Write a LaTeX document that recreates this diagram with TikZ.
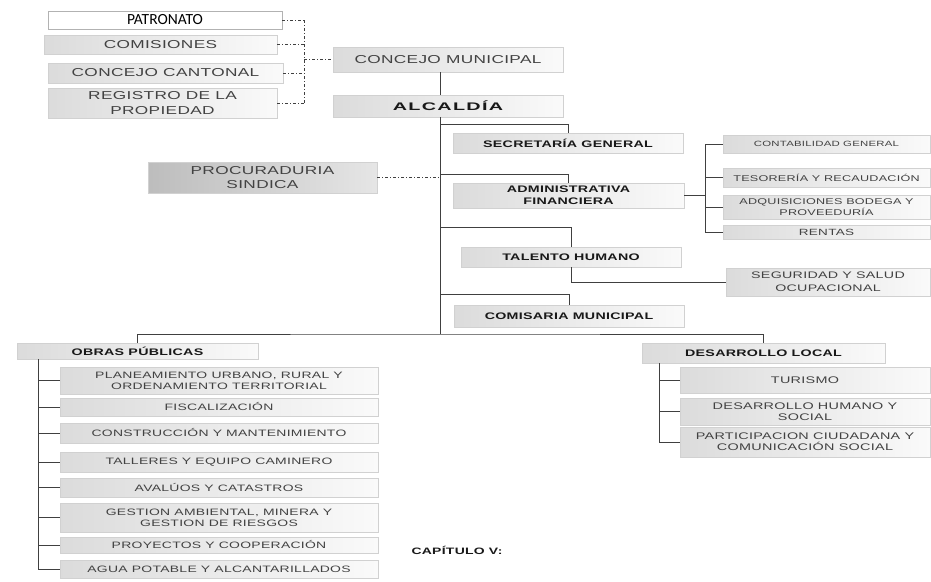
\documentclass[tikz,border=0pt]{standalone}
\usepackage{fontspec}
\newfontfamily\orgfont[FakeStretch=1.5,LetterSpace=3]{Liberation Sans}
\newfontfamily\widefont[FakeStretch=1.8,LetterSpace=12]{Liberation Sans}
\newfontfamily\patfont{Carlito}
\tikzset{
  unit/.style={rectangle, inner sep=0pt, draw=black!18, left color=black!14, right color=black!2, align=center, text=black!74},
  whitebox/.style={rectangle, inner sep=0pt, draw=black!30, fill=white, text=black, font=\patfont\fontsize{15.5}{17}\selectfont},
  toptext/.style={font=\orgfont\fontsize{11.5}{14.5}\selectfont},
  boldtext/.style={font=\orgfont\bfseries\fontsize{9.5}{12}\selectfont, text=black!90},
  smalltext/.style={font=\orgfont\fontsize{8.4}{10.5}\selectfont},
  subtext/.style={font=\orgfont\fontsize{9.3}{11}\selectfont},
  link/.style={draw=black!75, line width=0.6pt},
  dlink/.style={link, dash pattern=on 3pt off 2pt on 1pt off 2pt},
}
\begin{document}
\begin{tikzpicture}[x=1pt, y=-1pt]
  \useasboundingbox (0,0) rectangle (931,581);
  %
  \node[whitebox, minimum width=234, minimum height=18] (patronato) at (165,20) {PATRONATO}; % council side
  \node[unit, toptext, minimum width=233, minimum height=19] (comisiones) at (160.5,44.5) {COMISIONES};
  \node[unit, toptext, minimum width=235, minimum height=20] (cantonal) at (165.5,73) {CONCEJO CANTONAL};
  \node[unit, toptext, minimum width=229, minimum height=30] (registro) at (162.5,103) {REGISTRO DE LA\\PROPIEDAD};
  %
  \node[unit, toptext, minimum width=230, minimum height=25] (concejo) at (448,59.5) {CONCEJO MUNICIPAL}; % main line
  \node[unit, font=\widefont\bfseries\fontsize{11}{13}\selectfont, text=black!90, minimum width=230, minimum height=22] (alcaldia) at (448,106) {ALCALD\'IA};
  \node[unit, toptext, left color=black!26, right color=black!10, minimum width=229, minimum height=31] (procuraduria) at (262.5,177.5) {PROCURADURIA\\SINDICA};
  %
  \node[unit, boldtext, minimum width=230, minimum height=20] (secretaria) at (568,143) {SECRETAR\'IA GENERAL}; % directions
  \node[unit, boldtext, minimum width=231, minimum height=25] (admin) at (568.5,195.5) {ADMINISTRATIVA\\FINANCIERA};
  \node[unit, boldtext, minimum width=220, minimum height=20] (talento) at (571,257) {TALENTO HUMANO};
  \node[unit, boldtext, minimum width=230, minimum height=22] (comisaria) at (569,316) {COMISARIA MUNICIPAL};
  %
  \node[unit, smalltext, font=\orgfont\fontsize{7.6}{9}\selectfont, minimum width=207, minimum height=18] (contabilidad) at (826.5,144) {CONTABILIDAD GENERAL}; % finance units
  \node[unit, smalltext, minimum width=207, minimum height=19] (tesoreria) at (826.5,177.5) {TESORER\'IA Y RECAUDACI\'ON};
  \node[unit, smalltext, minimum width=207, minimum height=24] (adquisiciones) at (826.5,207) {ADQUISICIONES BODEGA Y\\PROVEEDUR\'IA};
  \node[unit, smalltext, font=\orgfont\fontsize{9}{11}\selectfont, minimum width=207, minimum height=14] (rentas) at (826.5,232) {RENTAS};
  \node[unit, font=\orgfont\fontsize{9.5}{13}\selectfont, minimum width=204, minimum height=28] (seguridad) at (828,282) {SEGURIDAD Y SALUD\\OCUPACIONAL};
  %
  \node[unit, boldtext, minimum width=241, minimum height=16] (obras) at (137.5,351) {OBRAS P\'UBLICAS}; % public works
  \node[unit, subtext, minimum width=318, minimum height=27] (plan) at (219,380.5) {PLANEAMIENTO URBANO, RURAL Y\\ORDENAMIENTO TERRITORIAL};
  \node[unit, subtext, minimum width=318, minimum height=18] (fisc) at (219,407) {FISCALIZACI\'ON};
  \node[unit, subtext, minimum width=318, minimum height=20] (constr) at (219,433) {CONSTRUCCI\'ON Y MANTENIMIENTO};
  \node[unit, subtext, minimum width=318, minimum height=20] (talleres) at (219,462) {TALLERES Y EQUIPO CAMINERO};
  \node[unit, subtext, minimum width=318, minimum height=19] (avaluos) at (219,487.5) {AVAL\'UOS Y CATASTROS};
  \node[unit, subtext, minimum width=318, minimum height=29] (gestion) at (219,517.5) {GESTION AMBIENTAL, MINERA Y\\GESTION DE RIESGOS};
  \node[unit, subtext, minimum width=318, minimum height=16] (proyectos) at (219,545) {PROYECTOS Y COOPERACI\'ON};
  \node[unit, subtext, minimum width=318, minimum height=18] (agua) at (219,569) {AGUA POTABLE Y ALCANTARILLADOS};
  %
  \node[unit, boldtext, minimum width=243, minimum height=20] (desarrollo) at (763.5,353) {DESARROLLO LOCAL}; % local development
  \node[unit, subtext, font=\orgfont\fontsize{9.6}{11}\selectfont, minimum width=250, minimum height=26] (turismo) at (805,380) {TURISMO};
  \node[unit, subtext, font=\orgfont\fontsize{9.6}{10.5}\selectfont, minimum width=250, minimum height=27] (humano) at (805,411.5) {DESARROLLO HUMANO Y\\SOCIAL};
  \node[unit, subtext, font=\orgfont\fontsize{9.6}{11}\selectfont, minimum width=250, minimum height=30] (particip) at (805,442) {PARTICIPACION CIUDADANA Y\\COMUNICACI\'ON SOCIAL};
  %
  \node[anchor=west, font=\orgfont\bfseries\fontsize{9.3}{11}\selectfont, text=black!90] (cap) at (408,550) {CAP\'ITULO V:};
  %
  \coordinate (bartop) at (304,20);   % dash-dot bracket
  \coordinate (barbot) at (304,103);
  \draw[dlink] (bartop) -- (barbot);
  \foreach \n in {patronato, comisiones, cantonal, registro}
    \draw[dlink] (\n.east) -- (\n.east -| bartop);
  \draw[dlink] (bartop |- concejo.west) -- (concejo.west);
  %
  \coordinate (trunk) at (440,334);   % main trunk
  \draw[link] (concejo.south -| trunk) -- (alcaldia.north -| trunk);
  \draw[link] (alcaldia.south -| trunk) -- (trunk);
  \draw[link] (trunk |- 0,124) -| (secretaria.north);
  \draw[link] (trunk |- 0,174) -| (admin.north);
  \draw[link] (trunk |- 0,227) -| (talento.north);
  \draw[link] (trunk |- 0,294) -| (comisaria.north);
  \draw[dlink] (procuraduria.east) -- (procuraduria.east -| trunk);
  %
  \coordinate (finbar) at (705,146);  % finance bracket
  \draw[link] (admin.east) -- (admin.east -| finbar);
  \draw[link] (finbar |- contabilidad.west) -- (finbar |- rentas.west);
  \foreach \n in {contabilidad, tesoreria, adquisiciones, rentas}
    \draw[link] (finbar |- \n.west) -- (\n.west);
  \draw[link] (talento.south) |- (seguridad.west);
  %
  \draw[link] (obras.north) |- (trunk) -| (desarrollo.north); % bottom row
  \coordinate (obrasbar) at (38,359);
  \draw[link] (obrasbar) -- (obrasbar |- agua.west);
  \foreach \n in {plan, fisc, constr, talleres, avaluos, gestion, proyectos, agua}
    \draw[link] (obrasbar |- \n.west) -- (\n.west);
  \coordinate (localbar) at (659,363);
  \draw[link] (localbar) -- (localbar |- particip.west);
  \foreach \n in {turismo, humano, particip}
    \draw[link] (localbar |- \n.west) -- (\n.west);
\end{tikzpicture}
\end{document}
